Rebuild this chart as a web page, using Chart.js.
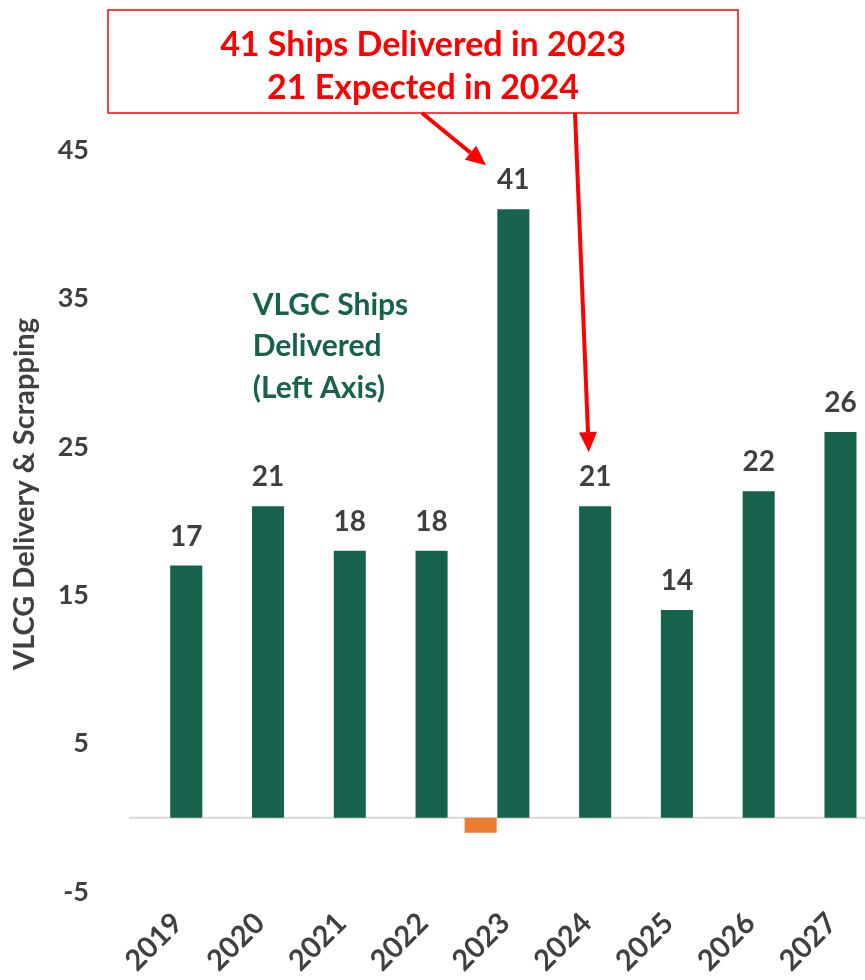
<!DOCTYPE html>
<html>
<head>
<meta charset="utf-8">
<script src="https://cdn.jsdelivr.net/npm/chart.js@4"></script>
<style>
  html, body { margin: 0; padding: 0; background: #fff; }
  #wrap { width: 865px; height: 980px; }
</style>
</head>
<body>
<div id="wrap"><canvas id="chart" width="865" height="980"></canvas></div>
<script>
const years = ["2019", "2020", "2021", "2022", "2023", "2024", "2025", "2026", "2027"];
const scrapped = [0, 0, 0, 0, -1, 0, 0, 0, 0];
const delivered = [17, 21, 18, 18, 41, 21, 14, 22, 26];
const yTicks = [-5, 5, 15, 25, 35, 45];

const GREEN = "#17624c";
const ORANGE = "#ed7d31";
const GREY = "#404040";
const FONT = "Lato, 'Open Sans', sans-serif";

// zero line under the bars
const zeroLine = {
  id: "zeroLine",
  beforeDatasetsDraw(chart) {
    const ctx = chart.ctx, a = chart.chartArea;
    const y0 = chart.scales.y.getPixelForValue(0);
    ctx.save();
    ctx.strokeStyle = "#d9d9d9";
    ctx.lineWidth = 2;
    ctx.beginPath();
    ctx.moveTo(a.left, y0);
    ctx.lineTo(a.right, y0);
    ctx.stroke();
    ctx.restore();
  }
};

// numbers above the green bars
const barLabels = {
  id: "barLabels",
  afterDatasetsDraw(chart) {
    const ctx = chart.ctx;
    const meta = chart.getDatasetMeta(1);
    ctx.save();
    ctx.fillStyle = GREY;
    ctx.font = "bold 28px " + FONT;
    ctx.textAlign = "center";
    ctx.textBaseline = "middle";
    meta.data.forEach((bar, i) => {
      ctx.fillText(String(delivered[i]), bar.x, bar.y - 29);
    });
    ctx.restore();
  }
};

// callout box, arrows, series note, axis title
const extras = {
  id: "extras",
  afterDraw(chart) {
    const ctx = chart.ctx;
    const x = chart.scales.x, y = chart.scales.y;
    ctx.save();

    // box
    ctx.fillStyle = "#fff";
    ctx.strokeStyle = "#ff0000";
    ctx.lineWidth = 1.5;
    ctx.fillRect(108, 10, 630, 103);
    ctx.strokeRect(108, 10, 630, 103);
    ctx.fillStyle = "#ff0000";
    ctx.font = "bold 34px " + FONT;
    ctx.textAlign = "center";
    ctx.textBaseline = "middle";
    ctx.fillText("41 Ships Delivered in 2023", 423, 45);
    ctx.fillText("21 Expected in 2024", 423, 88);

    // arrows
    const arrow = (x0, y0, x1, y1) => {
      const a = Math.atan2(y1 - y0, x1 - x0);
      const hl = 20, hw = 9;
      const bx = x1 - hl * Math.cos(a), by = y1 - hl * Math.sin(a);
      ctx.strokeStyle = "#ff0000";
      ctx.fillStyle = "#ff0000";
      ctx.lineWidth = 4;
      ctx.beginPath();
      ctx.moveTo(x0, y0);
      ctx.lineTo(bx, by);
      ctx.stroke();
      ctx.beginPath();
      ctx.moveTo(x1, y1);
      ctx.lineTo(bx + hw * Math.sin(a), by - hw * Math.cos(a));
      ctx.lineTo(bx - hw * Math.sin(a), by + hw * Math.cos(a));
      ctx.closePath();
      ctx.fill();
    };
    arrow(422, 113, x.getPixelForValue(4) - 11, y.getPixelForValue(41) - 44);
    arrow(575, 113, x.getPixelForValue(5) + 10, y.getPixelForValue(21) - 54);

    // series note
    ctx.fillStyle = GREEN;
    ctx.font = "bold 30px " + FONT;
    ctx.textAlign = "left";
    ctx.textBaseline = "middle";
    const nx = x.getPixelForValue(1) + 1;
    ["VLGC Ships", "Delivered", "(Left Axis)"].forEach((t, i) => {
      ctx.fillText(t, nx, 305 + i * 41.5);
    });

    // y axis title
    ctx.translate(25, 494);
    ctx.rotate(-Math.PI / 2);
    ctx.fillStyle = GREY;
    ctx.font = "bold 29px " + FONT;
    ctx.textAlign = "center";
    ctx.fillText("VLCG Delivery & Scrapping", 0, 0);
    ctx.restore();
  }
};

new Chart(document.getElementById("chart"), {
  type: "bar",
  data: {
    labels: years,
    datasets: [
      { label: "Scrapping", data: scrapped, backgroundColor: ORANGE,
        categoryPercentage: 0.8, barPercentage: 0.98 },
      { label: "Delivered", data: delivered, backgroundColor: GREEN,
        categoryPercentage: 0.8, barPercentage: 0.98 }
    ]
  },
  options: {
    responsive: false,
    animation: false,
    layout: { padding: { top: 150, left: 0, right: 0, bottom: 0 } },
    plugins: { legend: { display: false }, tooltip: { enabled: false } },
    scales: {
      x: {
        grid: { display: false },
        border: { display: false },
        ticks: {
          color: GREY, font: { family: FONT, size: 29, weight: "bold" },
          minRotation: 45, maxRotation: 45, padding: 6, labelOffset: 8
        },
        afterFit(scale) { scale.height = 88; }
      },
      y: {
        min: -5, max: 45,
        afterBuildTicks(scale) { scale.ticks = yTicks.map(v => ({ value: v })); },
        grid: { display: false },
        border: { display: false },
        ticks: {
          color: GREY, font: { family: FONT, size: 27, weight: "bold" }, padding: 32
        },
        afterFit(scale) { scale.width = 129; }
      }
    }
  },
  plugins: [zeroLine, barLabels, extras]
});
</script>
</body>
</html>
